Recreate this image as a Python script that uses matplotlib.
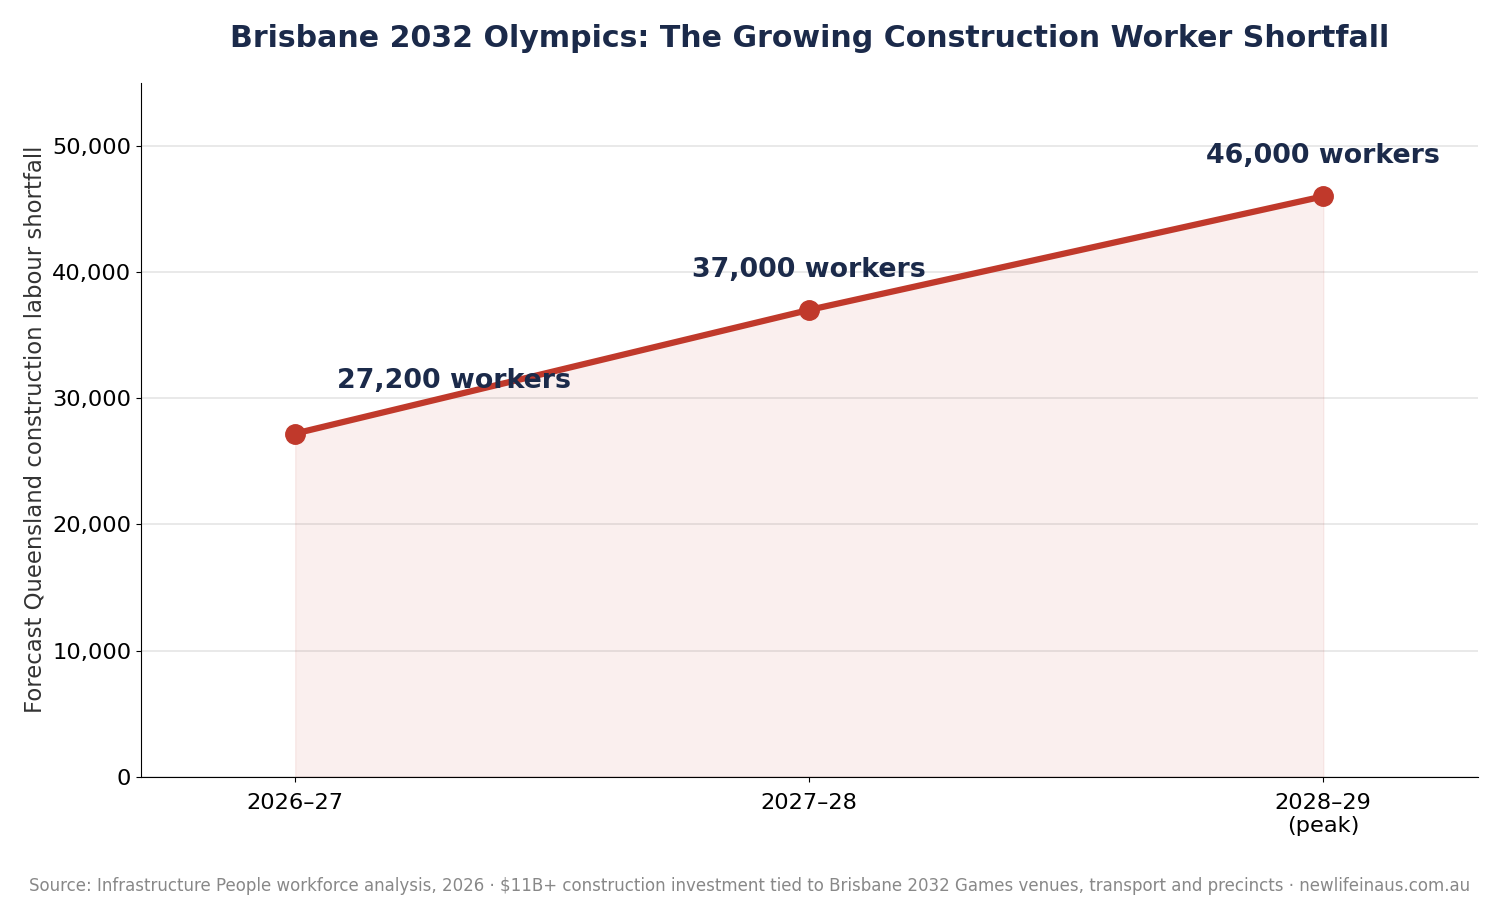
import matplotlib
matplotlib.use("Agg")
from matplotlib import pyplot as plt

periodos = ["2026–27", "2027–28", "2028–29\n(peak)"]
deficit = [27200, 37000, 46000]
rotulos = ["27,200 workers", "37,000 workers", "46,000 workers"]

vermelho = "#c0392b"
azul = "#1b2a4a"

fig = plt.figure(figsize=(15, 9), dpi=100)
ax = fig.add_axes([0.094, 0.137, 0.891, 0.771])

x = list(range(len(deficit)))
ax.fill_between(x, deficit, 0, color=vermelho, alpha=0.08)
ax.plot(x, deficit, color=vermelho, linewidth=4.5, marker="o", markersize=14, zorder=3)

# rotulos acima dos pontos
deslocamentos = [(30, 28.5), (0, 19.5), (0, 19.5)]
alinhamentos = ["left", "center", "center"]
for xi, yi, txt, off, ha in zip(x, deficit, rotulos, deslocamentos, alinhamentos):
    ax.annotate(txt, (xi, yi), xytext=off, textcoords="offset points",
                ha=ha, va="bottom", fontsize=19.4, fontweight="bold", color=azul)

ax.set_xlim(-0.3, 2.3)
ax.set_ylim(0, 55000)
ax.set_xticks(x)
ax.set_xticklabels(periodos, fontsize=16.2)
ax.set_yticks(range(0, 50001, 10000))
ax.yaxis.set_major_formatter(matplotlib.ticker.FuncFormatter(lambda v, p: f"{int(v):,}"))
ax.tick_params(axis="y", labelsize=16.2)
ax.tick_params(axis="x", pad=8)

ax.grid(axis="y", color="#e5e5e5", linewidth=1.2)
ax.set_axisbelow(True)
ax.spines["top"].set_visible(False)
ax.spines["right"].set_visible(False)

ax.set_ylabel("Forecast Queensland construction labour shortfall", fontsize=16.4, color="#333333")
ax.set_title("Brisbane 2032 Olympics: The Growing Construction Worker Shortfall",
             fontsize=21.6, fontweight="bold", color=azul, pad=26)

fig.text(0.5, 0.010, "Source: Infrastructure People workforce analysis, 2026 · $11B+ construction investment tied to "
         "Brisbane 2032 Games venues, transport and precincts · newlifeinaus.com.au",
         ha="center", fontsize=12, color="#888888")

fig.savefig("out.png", dpi=100)
